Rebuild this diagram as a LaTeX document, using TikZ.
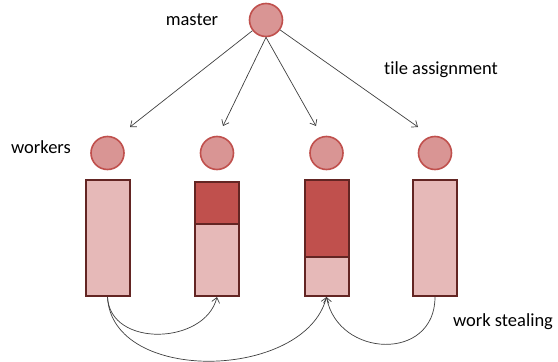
\documentclass[tikz,border=0pt]{standalone}
\usepackage{fontspec}
\setmainfont[Ligatures=NoCommon]{Carlito}
\usetikzlibrary{arrows.meta}
\definecolor{procfill}{HTML}{D99594}
\definecolor{procline}{HTML}{C0504D}
\definecolor{tilelight}{HTML}{E6B9B8}
\definecolor{tiledark}{HTML}{C0504D}
\definecolor{tileline}{HTML}{632523}
\definecolor{arrowgray}{HTML}{404040}
\tikzset{
  proc/.style={circle, minimum size=33pt, inner sep=0pt, fill=procfill, draw=procline, line width=1.6pt},
  bar/.style={rectangle, minimum width=44pt, inner sep=0pt, fill=tilelight, draw=tileline, line width=2pt},
  done/.style={rectangle, minimum width=44pt, inner sep=0pt, fill=tiledark, draw=tileline, line width=2pt},
  label/.style={font=\fontsize{18.5}{22}\selectfont, text=black, inner sep=0pt},
  conn/.style={draw=arrowgray, line width=0.7pt, -{Straight Barb[length=5pt,width=8pt]}},
}
\begin{document}
\begin{tikzpicture}[x=1pt,y=-1pt]
\useasboundingbox (0,0) rectangle (558,362);
\fill[white] (0,0) rectangle (558,362);

% processes
\node[proc] (m) at (266,20) {};
\node[proc] (p1) at (107.5,153) {};
\node[proc] (p2) at (217,153) {};
\node[proc] (p3) at (326.5,153) {};
\node[proc] (p4) at (435,153) {};

% task queues of the workers
\node[bar, minimum height=116pt] (w1) at (107.5,238) {};
\node[bar, minimum height=114pt] (w2) at (217,239) {};
\node[done, minimum height=42pt, anchor=north] (w2d) at (w2.north) {};
\node[bar, minimum height=116pt] (w3) at (326.5,238) {};
\node[done, minimum height=77pt, anchor=north] (w3d) at (w3.north) {};
\node[bar, minimum height=116pt] (w4) at (435,238) {};

% labels
\node[label] (lm) at (192,20) {master};
\node[label] (lt) at (441,70) {tile assignment};
\node[label] (lw) at (41,147) {workers};
\node[label] (ls) at (503,322) {work stealing};

% tile assignment
\coordinate (t1) at (130,127);
\coordinate (t2) at (223,126);
\coordinate (t3) at (316,126);
\coordinate (t4) at (418,127);
\draw[conn] (m) -- (t1);
\draw[conn] (m.south) -- (t2);
\draw[conn] (m.south) -- (t3);
\draw[conn] (m) -- (t4);

% work stealing
\draw[conn] (w1.south) .. controls (110,348) and (205,345) .. (w2.south);
\draw[conn] (w1.south) .. controls (112,385) and (305,380) .. (w3.south);
\draw[conn] (w4.south) .. controls (435,362) and (338,358) .. (w3.south);
\end{tikzpicture}
\end{document}
